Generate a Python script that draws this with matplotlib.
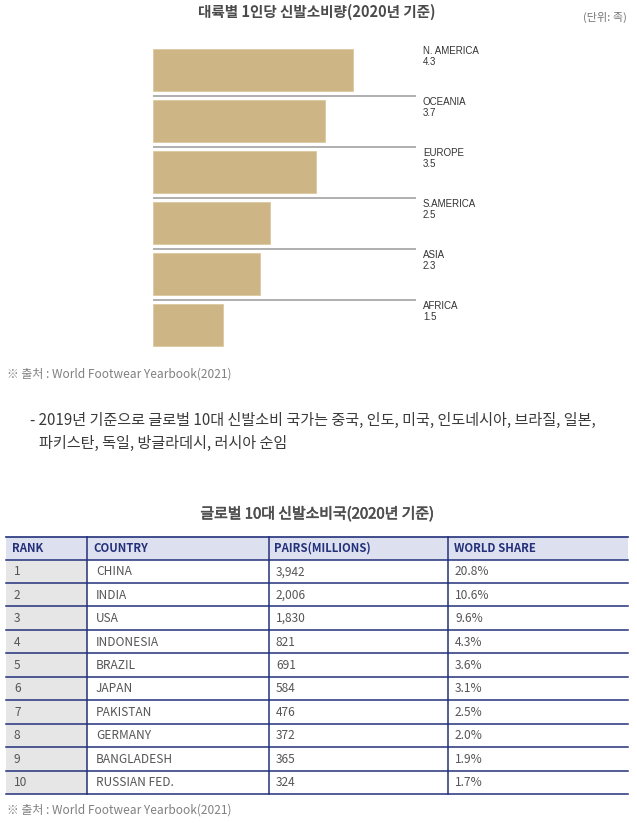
import matplotlib
matplotlib.use("Agg")
import matplotlib.pyplot as plt
import matplotlib.patheffects as pe
from matplotlib.patches import Rectangle

plt.rcParams['font.family'] = ['Noto Sans CJK KR', 'DejaVu Sans']

# ---------------- data ----------------
continents = ["N. AMERICA", "OCEANIA", "EUROPE", "S.AMERICA", "ASIA", "AFRICA"]
per_capita = [4.3, 3.7, 3.5, 2.5, 2.3, 1.5]

ranks = ["1", "2", "3", "4", "5", "6", "7", "8", "9", "10"]
countries = ["CHINA", "INDIA", "USA", "INDONESIA", "BRAZIL", "JAPAN",
             "PAKISTAN", "GERMANY", "BANGLADESH", "RUSSIAN FED."]
pairs = ["3,942", "2,006", "1,830", "821", "691", "584", "476", "372", "365", "324"]
shares = ["20.8%", "10.6%", "9.6%", "4.3%", "3.6%", "3.1%", "2.5%", "2.0%", "1.9%", "1.7%"]
headers = ["RANK", "COUNTRY", "PAIRS(MILLIONS)", "WORLD SHARE"]

title1 = "대륙별 1인당 신발소비량(2020년 기준)"
unit = "(단위: 족)"
source = "※ 출처 : World Footwear Yearbook(2021)"
bullet1 = "- 2019년 기준으로 글로벌 10대 신발소비 국가는 중국, 인도, 미국, 인도네시아, 브라질, 일본,"
bullet2 = "파키스탄, 독일, 방글라데시, 러시아 순임"
title2 = "글로벌 10대 신발소비국(2020년 기준)"

W, H = 637, 823
fig = plt.figure(figsize=(W / 100, H / 100), dpi=100)
fig.patch.set_facecolor("white")

# full-figure canvas in pixel coordinates (for texts and the table)
canvas = fig.add_axes([0, 0, 1, 1])
canvas.set_xlim(0, W)
canvas.set_ylim(H, 0)
canvas.axis("off")

# ---------------- bar chart ----------------
px_per_unit = 46.6
bx0, bx1 = 153, 416
by0, by1 = 44.5, 350.5
bar_ax = fig.add_axes([bx0 / W, 1 - by1 / H, (bx1 - bx0) / W, (by1 - by0) / H])
n = len(continents)
ypos = list(range(n))
bar_ax.barh(ypos, per_capita, height=0.82, color="#cdb586", edgecolor="#dcc9a0",
            linewidth=0.6)
bar_ax.set_xlim(0, (bx1 - bx0) / px_per_unit)
bar_ax.set_ylim(n - 0.5, -0.5)
bar_ax.axis("off")
for i in range(1, n):
    bar_ax.axhline(i - 0.5, color="#9a9a9a", lw=1.1)
for i, (name, v) in enumerate(zip(continents, per_capita)):
    bar_ax.annotate(name, xy=(1.0, i - 0.5), xycoords=("axes fraction", "data"),
                    xytext=(7, -1.5), textcoords="offset pixels", va="top", ha="left",
                    fontsize=7.0, color="#333333", family="Liberation Sans")
    bar_ax.annotate(f"{v}", xy=(1.0, i - 0.5), xycoords=("axes fraction", "data"),
                    xytext=(7, -12.5), textcoords="offset pixels", va="top", ha="left",
                    fontsize=7.0, color="#333333", family="Liberation Sans")

# ---------------- texts ----------------
canvas.text(317, 12, title1, ha="center", va="center", fontsize=10.5,
            fontweight="bold", color="#4a4a4a")
canvas.text(627, 17, unit, ha="right", va="center", fontsize=8, color="#777777")
canvas.text(7, 374, source, ha="left", va="center", fontsize=8.6, color="#808080")
canvas.text(30, 420, bullet1, ha="left", va="center", fontsize=10.9, color="#3a3a3a")
canvas.text(39, 443, bullet2, ha="left", va="center", fontsize=10.9, color="#3a3a3a")
canvas.text(317, 514, title2, ha="center", va="center", fontsize=10.7,
            color="#4e4e4e",
            path_effects=[pe.withStroke(linewidth=0.45, foreground="#4e4e4e")])
canvas.text(7, 810, source, ha="left", va="center", fontsize=8.6, color="#808080")

# ---------------- table ----------------
navy = "#23307a"
tx0, tx1 = 6, 628
col_edges = [tx0, 86.5, 268.5, 447.5, tx1]
top, head_bot = 536.5, 559.5
row_h = 23.45
nrows = len(ranks)
bottom = head_bot + nrows * row_h

canvas.add_patch(Rectangle((tx0, top), tx1 - tx0, head_bot - top,
                           facecolor="#dde0ef", edgecolor="none"))
canvas.add_patch(Rectangle((tx0, head_bot), col_edges[1] - tx0, bottom - head_bot,
                           facecolor="#e6e6e6", edgecolor="none"))

canvas.plot([tx0, tx1], [top, top], color=navy, lw=1.2)
for k in range(nrows + 1):
    y = head_bot + k * row_h
    canvas.plot([tx0, tx1], [y, y], color=navy, lw=1.1)
for x in col_edges[1:-1]:
    canvas.plot([x, x], [top, bottom], color=navy, lw=1.1)

head_x = [12, 93, 274, 454]
body_x = [14, 96, 276, 455]
for hx, h in zip(head_x, headers):
    canvas.text(hx, (top + head_bot) / 2 + 0.5, h, ha="left", va="center",
                fontsize=8.2, fontweight="bold", color=navy)
for r in range(nrows):
    yc = head_bot + (r + 0.5) * row_h + 0.5
    for cx, val in zip(body_x, [ranks[r], countries[r], pairs[r], shares[r]]):
        canvas.text(cx, yc, val, ha="left", va="center", fontsize=8.6,
                    color="#555555")

fig.savefig("out.png", dpi=100, facecolor="white")
